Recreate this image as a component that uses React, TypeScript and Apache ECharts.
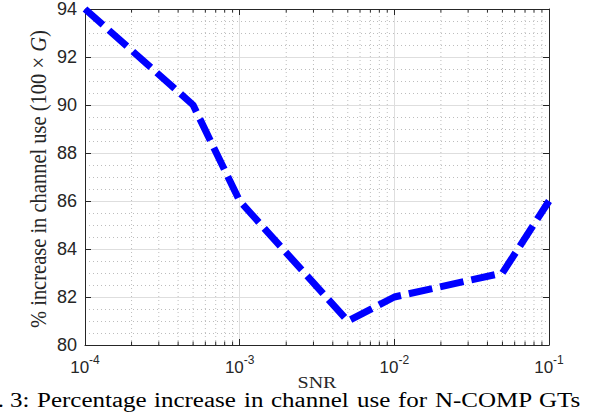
import React, { useEffect, useRef } from "react";
import * as echarts from "echarts";

// ---- data ----
const snrValues = [1e-4, 5e-4, 1e-3, 5e-3, 1e-2, 5e-2, 1e-1];
const increaseValues = [94, 90, 86, 81, 82, 83, 86];
const xDecades = [1e-4, 1e-3, 1e-2, 1e-1];
const xExponents = ["-4", "-3", "-2", "-1"];
const minorMultipliers = [2, 3, 4, 5, 6, 7, 8, 9];
const yMin = 80;
const yMax = 94;
const yStep = 2;
const xLabel = "SNR";
const yLabelParts = ["% increase in channel use (100 × ", "G", ")"];
const captionWords = ["Fig.", "3:", "Percentage", "increase", "in", "channel", "use", "for", "N-COMP", "GTs"];
const captionStarts = [4, 10, 37, 154, 244, 271, 357, 398, 435, 539];

const minorX: number[] = [];
for (let i = 0; i < xDecades.length - 1; i++) {
  for (const m of minorMultipliers) minorX.push(xDecades[i] * m);
}

const AXIS = "#262626";
const SANS = "Liberation Sans";
const SERIF = "Liberation Serif";
const MAJOR_GRID = "#dedede";
const MINOR_GRID = "#bdbdbd";

export default function App() {
  const ref = useRef<HTMLDivElement>(null);
  useEffect(() => {
    if (!ref.current) return;
    const chart = echarts.init(ref.current, undefined, { renderer: "svg" });
    const expFor = (v: number) => {
      let best = 0;
      xDecades.forEach((d, i) => {
        if (Math.abs(Math.log10(d) - Math.log10(v)) < Math.abs(Math.log10(xDecades[best]) - Math.log10(v))) best = i;
      });
      return xExponents[best];
    };
    const common = {
      type: "log" as const,
      logBase: 10,
      min: xDecades[0],
      max: xDecades[xDecades.length - 1],
      axisLine: { show: true, lineStyle: { color: AXIS, width: 1 } },
      axisTick: { show: true, inside: true, length: 6, lineStyle: { color: AXIS } },
    };
    const captionGraphics = captionWords.map((w, i) => ({
      type: "text",
      x: captionStarts[i],
      y: 400,
      scaleX: 1.25,
      style: {
        text: w,
        fontFamily: SERIF,
        fontSize: 20,
        fill: "#000",
        align: i === 0 ? "right" : "left",
        verticalAlign: "middle",
      },
    }));
    chart.setOption({
      animation: false,
      backgroundColor: "#fff",
      textStyle: { fontFamily: SANS },
      grid: { left: 85, right: 43, top: 5, bottom: 69, containLabel: false },
      xAxis: [
        {
          ...common,
          position: "bottom",
          axisLabel: {
            margin: 9,
            fontFamily: SANS,
            formatter: (v: number) => `{b|10}{s|${expFor(v)}}`,
            rich: {
              b: { fontFamily: SANS, fontSize: 17, color: AXIS, lineHeight: 22, verticalAlign: "bottom" },
              s: { fontFamily: SANS, fontSize: 12, color: AXIS, lineHeight: 14, verticalAlign: "top" },
            },
          },
          splitLine: { show: true, lineStyle: { color: MAJOR_GRID, width: 1 } },
        },
        {
          ...common,
          position: "top",
          axisLabel: { show: false },
          splitLine: { show: false },
        },
      ],
      yAxis: [
        {
          type: "value",
          min: yMin,
          max: yMax,
          interval: yStep,
          position: "left",
          axisLine: { show: true, lineStyle: { color: AXIS, width: 1 } },
          axisTick: { show: true, inside: true, length: 6, lineStyle: { color: AXIS } },
          axisLabel: { fontFamily: SANS, fontSize: 18, color: AXIS, margin: 8 },
          splitLine: { show: true, lineStyle: { color: MAJOR_GRID, width: 1 } },
          minorTick: { show: false, splitNumber: 4 },
          minorSplitLine: { show: true, lineStyle: { color: MINOR_GRID, width: 1, type: [1, 3] } },
        },
        {
          type: "value",
          min: yMin,
          max: yMax,
          interval: yStep,
          position: "right",
          axisLine: { show: true, lineStyle: { color: AXIS, width: 1 } },
          axisTick: { show: true, inside: true, length: 6, lineStyle: { color: AXIS } },
          axisLabel: { show: false },
          splitLine: { show: false },
        },
      ],
      graphic: [
        {
          type: "text",
          x: 38,
          y: 328,
          rotation: Math.PI / 2,
          scaleY: 1.15,
          style: {
            text: `{n|${yLabelParts[0]}}{i|${yLabelParts[1]}}{n|${yLabelParts[2]}}`,
            fontFamily: SERIF,
            fontSize: 20.5,
            fill: "#262626",
            align: "left",
            verticalAlign: "middle",
            rich: {
              n: { fontFamily: SERIF, fontSize: 20.5, fill: "#262626" },
              i: { fontFamily: SERIF, fontSize: 20.5, fontStyle: "italic", fill: "#262626" },
            },
          },
        },
        {
          type: "text",
          x: 317,
          y: 383,
          scaleX: 1.25,
          style: {
            text: xLabel,
            fontFamily: SERIF,
            fontSize: 16,
            fill: "#262626",
            align: "center",
            verticalAlign: "middle",
          },
        },
        ...captionGraphics,
      ],
      series: [
        {
          type: "custom",
          xAxisIndex: 0,
          yAxisIndex: 0,
          silent: true,
          z: 1,
          data: minorX.map((v) => [v, yMin]),
          renderItem: (_params: any, api: any) => {
            const x = api.value(0);
            const b = api.coord([x, yMin]);
            const t = api.coord([x, yMax]);
            return {
              type: "group",
              children: [
                {
                  type: "line",
                  shape: { x1: b[0], y1: b[1], x2: t[0], y2: t[1] },
                  style: { stroke: MINOR_GRID, lineWidth: 1, lineDash: [1, 3] },
                },
                {
                  type: "line",
                  shape: { x1: b[0], y1: b[1], x2: b[0], y2: b[1] - 3.5 },
                  style: { stroke: AXIS, lineWidth: 1 },
                },
                {
                  type: "line",
                  shape: { x1: t[0], y1: t[1], x2: t[0], y2: t[1] + 3.5 },
                  style: { stroke: AXIS, lineWidth: 1 },
                },
              ],
            };
          },
        },
        {
          type: "line",
          xAxisIndex: 0,
          yAxisIndex: 0,
          z: 5,
          data: snrValues.map((x, i) => [x, increaseValues[i]]),
          showSymbol: false,
          symbol: "none",
          lineStyle: { color: "#0000ff", width: 7, type: [24, 8], cap: "butt", join: "round" },
        },
      ],
    });
    return () => chart.dispose();
  }, []);
  return (
    <div
      ref={ref}
      style={{ position: "fixed", left: 0, top: 0, width: 592, height: 414, background: "#fff" }}
    />
  );
}
